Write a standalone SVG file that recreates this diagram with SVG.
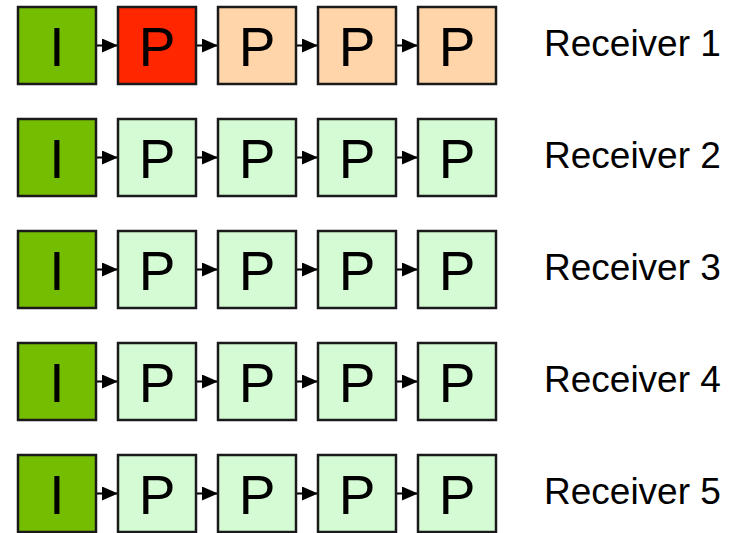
<svg xmlns="http://www.w3.org/2000/svg" width="730" height="533" viewBox="0 0 730 533">
<defs>
<style>
.b{stroke:#1a1a1a;stroke-width:2.5}
.i{fill:#74bd00}
.r{fill:#ff2600}
.o{fill:#ffd5a9}
.g{fill:#d5fbd5}
.t{font-family:"Liberation Sans",Arial,sans-serif;font-size:55px;text-anchor:middle;fill:#000}
.l{font-family:"Liberation Sans",Arial,sans-serif;font-size:37px;fill:#000}
.c{stroke:#000;stroke-width:2;fill:none;marker-end:url(#ah)}
</style>
<marker id="ah" markerUnits="userSpaceOnUse" markerWidth="16" markerHeight="14" refX="16" refY="7" orient="auto">
<path d="M0,0 L16,7 L0,14 z" fill="#000"/>
</marker>
</defs>
<g id="connectors">
<path class="c" d="M96,45.5H118"/><path class="c" d="M196,45.5H218"/><path class="c" d="M296,45.5H318"/><path class="c" d="M396,45.5H418"/>
<path class="c" d="M96,157.5H118"/><path class="c" d="M196,157.5H218"/><path class="c" d="M296,157.5H318"/><path class="c" d="M396,157.5H418"/>
<path class="c" d="M96,269.5H118"/><path class="c" d="M196,269.5H218"/><path class="c" d="M296,269.5H318"/><path class="c" d="M396,269.5H418"/>
<path class="c" d="M96,381.5H118"/><path class="c" d="M196,381.5H218"/><path class="c" d="M296,381.5H318"/><path class="c" d="M396,381.5H418"/>
<path class="c" d="M96,493.5H118"/><path class="c" d="M196,493.5H218"/><path class="c" d="M296,493.5H318"/><path class="c" d="M396,493.5H418"/>
</g>
<g id="row1">
<g id="r1n1"><rect class="b i" x="18" y="7" width="78" height="77"/><text class="t" x="57" y="66">I</text></g>
<g id="r1n2"><rect class="b r" x="118" y="7" width="78" height="77"/><text class="t" x="157" y="66">P</text></g>
<g id="r1n3"><rect class="b o" x="218" y="7" width="78" height="77"/><text class="t" x="257" y="66">P</text></g>
<g id="r1n4"><rect class="b o" x="318" y="7" width="78" height="77"/><text class="t" x="357" y="66">P</text></g>
<g id="r1n5"><rect class="b o" x="418" y="7" width="78" height="77"/><text class="t" x="457" y="66">P</text></g>
<text id="r1l" class="l" x="544" y="56">Receiver 1</text>
</g>
<g id="row2">
<g id="r2n1"><rect class="b i" x="18" y="119" width="78" height="77"/><text class="t" x="57" y="178">I</text></g>
<g id="r2n2"><rect class="b g" x="118" y="119" width="78" height="77"/><text class="t" x="157" y="178">P</text></g>
<g id="r2n3"><rect class="b g" x="218" y="119" width="78" height="77"/><text class="t" x="257" y="178">P</text></g>
<g id="r2n4"><rect class="b g" x="318" y="119" width="78" height="77"/><text class="t" x="357" y="178">P</text></g>
<g id="r2n5"><rect class="b g" x="418" y="119" width="78" height="77"/><text class="t" x="457" y="178">P</text></g>
<text id="r2l" class="l" x="544" y="168">Receiver 2</text>
</g>
<g id="row3">
<g id="r3n1"><rect class="b i" x="18" y="231" width="78" height="77"/><text class="t" x="57" y="290">I</text></g>
<g id="r3n2"><rect class="b g" x="118" y="231" width="78" height="77"/><text class="t" x="157" y="290">P</text></g>
<g id="r3n3"><rect class="b g" x="218" y="231" width="78" height="77"/><text class="t" x="257" y="290">P</text></g>
<g id="r3n4"><rect class="b g" x="318" y="231" width="78" height="77"/><text class="t" x="357" y="290">P</text></g>
<g id="r3n5"><rect class="b g" x="418" y="231" width="78" height="77"/><text class="t" x="457" y="290">P</text></g>
<text id="r3l" class="l" x="544" y="280">Receiver 3</text>
</g>
<g id="row4">
<g id="r4n1"><rect class="b i" x="18" y="343" width="78" height="77"/><text class="t" x="57" y="402">I</text></g>
<g id="r4n2"><rect class="b g" x="118" y="343" width="78" height="77"/><text class="t" x="157" y="402">P</text></g>
<g id="r4n3"><rect class="b g" x="218" y="343" width="78" height="77"/><text class="t" x="257" y="402">P</text></g>
<g id="r4n4"><rect class="b g" x="318" y="343" width="78" height="77"/><text class="t" x="357" y="402">P</text></g>
<g id="r4n5"><rect class="b g" x="418" y="343" width="78" height="77"/><text class="t" x="457" y="402">P</text></g>
<text id="r4l" class="l" x="544" y="392">Receiver 4</text>
</g>
<g id="row5">
<g id="r5n1"><rect class="b i" x="18" y="455" width="78" height="77"/><text class="t" x="57" y="514">I</text></g>
<g id="r5n2"><rect class="b g" x="118" y="455" width="78" height="77"/><text class="t" x="157" y="514">P</text></g>
<g id="r5n3"><rect class="b g" x="218" y="455" width="78" height="77"/><text class="t" x="257" y="514">P</text></g>
<g id="r5n4"><rect class="b g" x="318" y="455" width="78" height="77"/><text class="t" x="357" y="514">P</text></g>
<g id="r5n5"><rect class="b g" x="418" y="455" width="78" height="77"/><text class="t" x="457" y="514">P</text></g>
<text id="r5l" class="l" x="544" y="504">Receiver 5</text>
</g>
</svg>
